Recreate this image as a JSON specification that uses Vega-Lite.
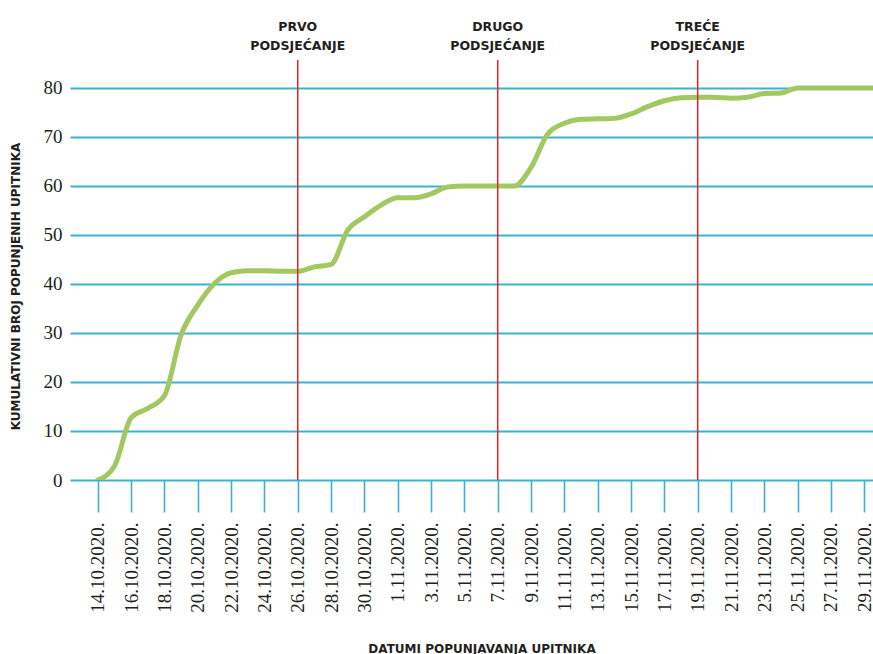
{
  "$schema": "https://vega.github.io/schema/vega-lite/v6.json",
  "width": 803,
  "height": 420,
  "autosize": "none",
  "padding": {"left": 70, "top": 60, "right": 0, "bottom": 174},
  "background": "white",
  "config": {"view": {"stroke": null}},
  "datasets": {
    "responses": [
      {"date": "2020-10-14", "count": 0},
      {"date": "2020-10-15", "count": 2.8},
      {"date": "2020-10-16", "count": 12.7},
      {"date": "2020-10-17", "count": 14.6},
      {"date": "2020-10-18", "count": 17.2},
      {"date": "2020-10-19", "count": 29.6},
      {"date": "2020-10-20", "count": 35.7},
      {"date": "2020-10-21", "count": 40.1},
      {"date": "2020-10-22", "count": 42.3},
      {"date": "2020-10-23", "count": 42.7},
      {"date": "2020-10-24", "count": 42.7},
      {"date": "2020-10-25", "count": 42.6},
      {"date": "2020-10-26", "count": 42.6},
      {"date": "2020-10-27", "count": 43.5},
      {"date": "2020-10-28", "count": 44.0},
      {"date": "2020-10-29", "count": 51.0},
      {"date": "2020-10-30", "count": 53.7},
      {"date": "2020-10-31", "count": 56.1},
      {"date": "2020-11-01", "count": 57.6},
      {"date": "2020-11-02", "count": 57.6},
      {"date": "2020-11-03", "count": 58.4},
      {"date": "2020-11-04", "count": 59.8},
      {"date": "2020-11-05", "count": 60},
      {"date": "2020-11-06", "count": 60},
      {"date": "2020-11-07", "count": 60},
      {"date": "2020-11-08", "count": 60},
      {"date": "2020-11-09", "count": 63.8},
      {"date": "2020-11-10", "count": 70.6},
      {"date": "2020-11-11", "count": 72.8},
      {"date": "2020-11-12", "count": 73.6},
      {"date": "2020-11-13", "count": 73.7},
      {"date": "2020-11-14", "count": 73.8},
      {"date": "2020-11-15", "count": 74.7},
      {"date": "2020-11-16", "count": 76.2},
      {"date": "2020-11-17", "count": 77.4},
      {"date": "2020-11-18", "count": 78.0},
      {"date": "2020-11-19", "count": 78.1},
      {"date": "2020-11-20", "count": 78.1},
      {"date": "2020-11-21", "count": 77.9},
      {"date": "2020-11-22", "count": 78.1},
      {"date": "2020-11-23", "count": 78.9},
      {"date": "2020-11-24", "count": 79.0},
      {"date": "2020-11-25", "count": 80},
      {"date": "2020-11-26", "count": 80},
      {"date": "2020-11-27", "count": 80},
      {"date": "2020-11-28", "count": 80},
      {"date": "2020-11-29", "count": 80},
      {"date": "2020-11-30", "count": 80}
    ],
    "reminders": [
      {"date": "2020-10-26", "label": "PRVO\nPODSJEĆANJE"},
      {"date": "2020-11-07", "label": "DRUGO\nPODSJEĆANJE"},
      {"date": "2020-11-19", "label": "TREĆE\nPODSJEĆANJE"}
    ]
  },
  "layer": [
    {
      "data": {"name": "responses"},
      "mark": {"type": "line", "interpolate": "monotone", "color": "#a3c761", "strokeWidth": 5, "clip": true, "strokeCap": "round"},
      "encoding": {
        "x": {
          "field": "date",
          "type": "temporal",
          "scale": {
            "type": "utc",
            "domain": [
              {"year": 2020, "month": 10, "date": 12, "hours": 8, "utc": true},
              {"year": 2020, "month": 11, "date": 29, "hours": 12, "minutes": 30, "utc": true}
            ]
          },
          "axis": {
            "values": [
              {"year": 2020, "month": 10, "date": 14, "utc": true},
              {"year": 2020, "month": 10, "date": 16, "utc": true},
              {"year": 2020, "month": 10, "date": 18, "utc": true},
              {"year": 2020, "month": 10, "date": 20, "utc": true},
              {"year": 2020, "month": 10, "date": 22, "utc": true},
              {"year": 2020, "month": 10, "date": 24, "utc": true},
              {"year": 2020, "month": 10, "date": 26, "utc": true},
              {"year": 2020, "month": 10, "date": 28, "utc": true},
              {"year": 2020, "month": 10, "date": 30, "utc": true},
              {"year": 2020, "month": 11, "date": 1, "utc": true},
              {"year": 2020, "month": 11, "date": 3, "utc": true},
              {"year": 2020, "month": 11, "date": 5, "utc": true},
              {"year": 2020, "month": 11, "date": 7, "utc": true},
              {"year": 2020, "month": 11, "date": 9, "utc": true},
              {"year": 2020, "month": 11, "date": 11, "utc": true},
              {"year": 2020, "month": 11, "date": 13, "utc": true},
              {"year": 2020, "month": 11, "date": 15, "utc": true},
              {"year": 2020, "month": 11, "date": 17, "utc": true},
              {"year": 2020, "month": 11, "date": 19, "utc": true},
              {"year": 2020, "month": 11, "date": 21, "utc": true},
              {"year": 2020, "month": 11, "date": 23, "utc": true},
              {"year": 2020, "month": 11, "date": 25, "utc": true},
              {"year": 2020, "month": 11, "date": 27, "utc": true},
              {"year": 2020, "month": 11, "date": 29, "utc": true}
            ],
            "tickCount": 60,
            "labelExpr": "utcFormat(datum.value, '%-d.%m.%Y.')",
            "labelAngle": -90,
            "labelFont": "Liberation Serif",
            "labelFontSize": 19,
            "labelColor": "#231f20",
            "labelPadding": 10,
            "labelOverlap": false,
            "labelFlush": false,
            "domain": false,
            "grid": false,
            "ticks": true,
            "tickSize": 32,
            "tickColor": "#3bb3d1",
            "tickWidth": 1.6,
            "title": "DATUMI POPUNJAVANJA UPITNIKA",
            "titleFont": "DejaVu Sans",
            "titleFontSize": 12,
            "titleFontWeight": "bold",
            "titleColor": "#231f20",
            "titleX": 411.5,
            "titleY": 168,
            "titleBaseline": "middle",
            "titleAnchor": "middle"
          }
        },
        "y": {
          "field": "count",
          "type": "quantitative",
          "scale": {"domain": [0, 85.714], "nice": false},
          "axis": {
            "values": [0, 10, 20, 30, 40, 50, 60, 70, 80],
            "labelFont": "Liberation Serif",
            "labelFontSize": 19,
            "labelColor": "#231f20",
            "labelPadding": 8,
            "domain": false,
            "ticks": false,
            "grid": true,
            "gridColor": "#3bb3d1",
            "gridWidth": 2,
            "title": "KUMULATIVNI BROJ POPUNJENIH UPITNIKA",
            "titleFont": "DejaVu Sans",
            "titleFontSize": 12,
            "titleFontWeight": "bold",
            "titleColor": "#231f20",
            "titleX": -55,
            "titleY": 226,
            "titleBaseline": "middle",
            "titleAnchor": "middle"
          }
        }
      }
    },
    {
      "data": {"name": "reminders"},
      "mark": {"type": "rule", "color": "#e2242b", "strokeWidth": 1.5},
      "encoding": {
        "x": {"field": "date", "type": "temporal"}
      }
    },
    {
      "data": {"name": "reminders"},
      "mark": {"type": "text", "lineBreak": "\n", "font": "DejaVu Sans", "fontWeight": "bold", "fontSize": 12.5, "color": "#231f20", "lineHeight": 19, "baseline": "middle", "align": "center"},
      "encoding": {
        "x": {"field": "date", "type": "temporal"},
        "y": {"datum": 92.35, "type": "quantitative", "scale": {"domain": [0, 85.714], "nice": false}},
        "text": {"field": "label"}
      }
    }
  ]
}
